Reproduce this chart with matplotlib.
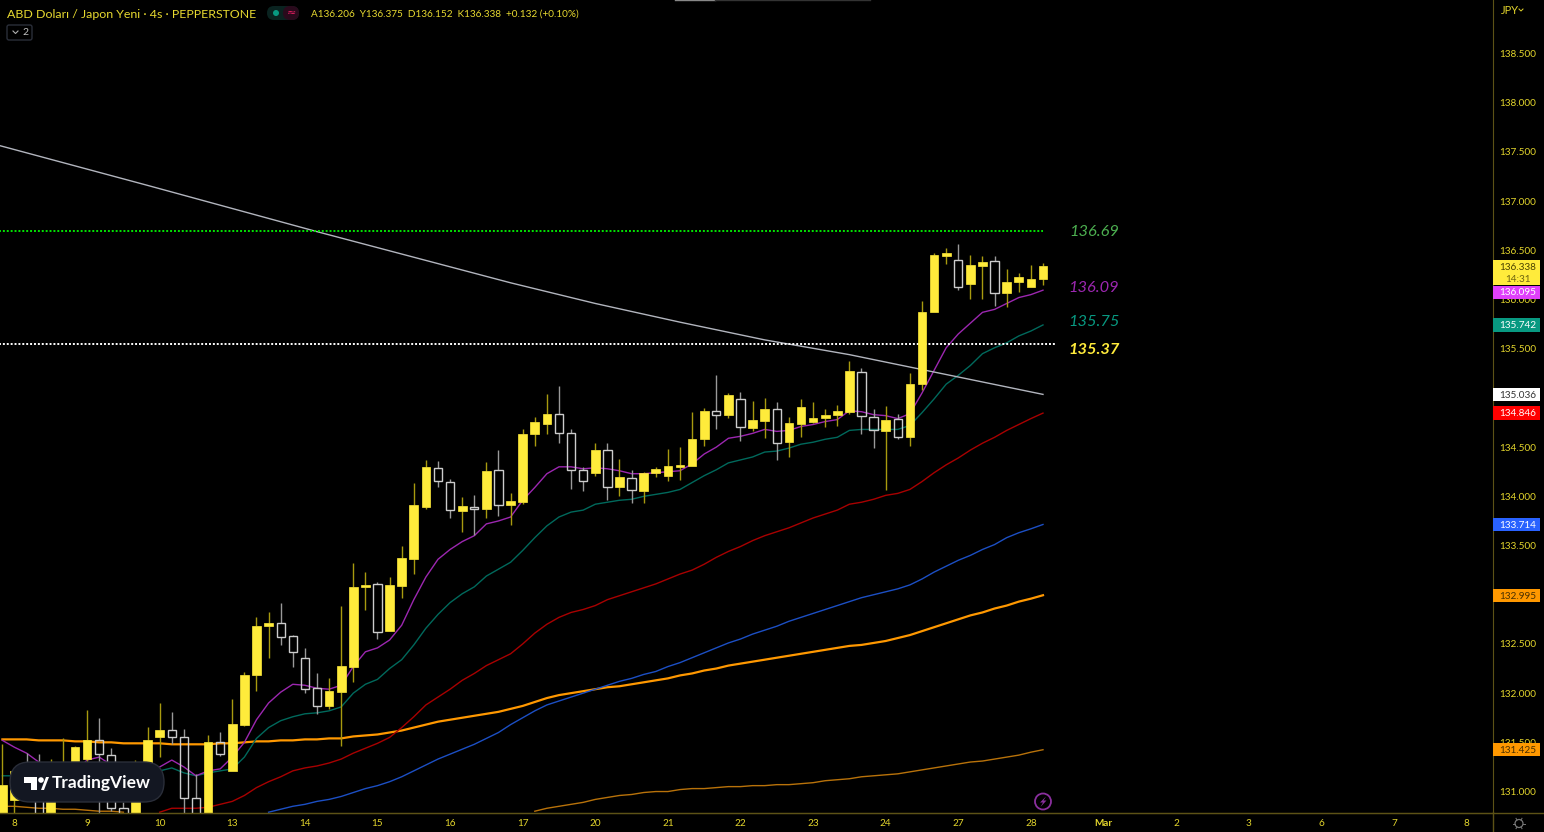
import numpy as np
import matplotlib
matplotlib.use('Agg')
import matplotlib.pyplot as plt
from matplotlib.patches import Rectangle, FancyBboxPatch, Circle, Polygon

plt.rcParams['font.family'] = ['Lato', 'DejaVu Sans']

# USD/JPY 4h candles
highs = [131.48,131.24,131.39,131.38,131.33,131.54,131.46,131.83,131.75,131.44,130.89,131.32,131.66,131.90,131.81,131.64,131.18,131.57,131.60,131.94,
         132.214,132.773,132.824,132.916,132.590,132.458,132.204,132.153,132.885,133.322,133.230,133.129,133.180,133.495,134.135,134.369,134.359,134.176,133.993,134.013,
         134.349,134.471,134.034,134.684,134.806,135.040,135.121,134.684,134.298,134.542,134.542,134.379,134.268,134.247,134.298,134.481,134.501,134.857,134.897,135.233,
         135.050,135.060,134.969,134.999,134.958,134.806,134.989,134.958,134.887,134.928,135.375,135.304,134.887,134.918,134.836,135.253,135.985,136.473,136.524,136.564,
         136.452,136.442,136.442,136.310,136.270,136.351,136.375]
lows = [130.61,130.76,130.914,130.61,130.61,131.07,131.12,131.30,130.76,130.80,130.61,130.61,131.12,131.35,131.48,130.61,130.61,130.61,131.36,131.21,
        131.666,132.021,132.357,132.489,132.265,132.001,131.788,131.839,131.462,132.113,132.844,132.550,132.631,132.966,133.210,133.871,134.095,133.780,133.637,133.607,
        133.780,133.800,133.708,133.922,134.511,134.633,134.542,134.075,134.054,134.207,133.962,134.003,133.932,133.932,134.196,134.156,134.166,134.308,134.511,134.684,
        134.796,134.562,134.664,134.593,134.369,134.399,134.603,134.745,134.704,134.715,134.836,134.633,134.491,134.064,134.582,134.511,135.080,135.873,136.361,136.097,
        136.005,136.005,135.934,135.924,136.077,136.127,136.152]
opens = [130.61,130.91,131.219,131.17,130.61,131.17,131.17,131.33,131.52,131.37,130.83,130.61,131.17,131.55,131.63,131.55,130.93,130.61,131.50,131.21,
         131.676,132.184,132.682,132.712,132.580,132.357,132.052,131.869,132.011,132.265,133.078,133.109,132.631,133.088,133.362,133.891,134.288,134.146,133.851,133.891,
         133.871,134.268,133.911,133.942,134.633,134.735,134.836,134.643,134.268,134.237,134.471,134.095,134.186,134.054,134.237,134.207,134.298,134.308,134.582,134.867,
         134.826,134.989,134.694,134.765,134.887,134.552,134.735,134.755,134.796,134.826,134.857,135.263,134.806,134.664,134.786,134.603,135.141,135.873,136.442,136.402,
         136.158,136.341,136.391,136.066,136.178,136.127,136.206]
closes = [131.07,131.21,130.965,130.61,131.17,131.27,131.45,131.52,131.38,130.83,130.61,131.19,131.52,131.63,131.55,130.93,130.61,131.50,131.38,131.69,
          132.184,132.682,132.712,132.570,132.418,132.041,131.869,132.021,132.275,133.078,133.098,132.621,133.098,133.373,133.911,134.298,134.156,133.861,133.901,133.871,
          134.257,133.911,133.952,134.633,134.755,134.836,134.643,134.268,134.156,134.471,134.095,134.196,134.064,134.237,134.278,134.308,134.318,134.582,134.867,134.826,
          135.030,134.704,134.776,134.887,134.542,134.745,134.908,134.796,134.826,134.867,135.274,134.816,134.674,134.776,134.603,135.141,135.873,136.452,136.473,136.127,
          136.351,136.381,136.066,136.178,136.229,136.209,136.338]

# moving averages, one value per bar, the shorter ones end at the last bar
ma_magenta = [131.52,131.45,131.39,131.30,131.22,131.17,131.20,131.32,131.35,131.27,131.17,131.14,131.20,131.25,131.32,131.25,131.16,131.21,131.23,131.35,
              131.50,131.73,131.90,132.01,132.09,132.08,132.05,132.04,132.08,132.27,132.42,132.46,132.54,132.69,132.95,133.18,133.36,133.46,133.54,133.60,
              133.72,133.75,133.79,133.96,134.09,134.23,134.30,134.30,134.28,134.29,134.28,134.26,134.23,134.23,134.24,134.25,134.26,134.33,134.43,134.50,
              134.59,134.61,134.64,134.68,134.66,134.67,134.71,134.73,134.76,134.78,134.87,134.86,134.83,134.82,134.79,134.84,135.05,135.28,135.51,135.65,
              135.76,135.87,135.90,135.96,136.02,136.05,136.095]
ma_teal = [131.16,131.16,131.16,131.14,131.10,131.08,131.09,131.14,131.17,131.14,131.10,131.10,131.16,131.21,131.24,131.19,131.16,131.19,131.21,131.23,
           131.35,131.54,131.65,131.72,131.76,131.79,131.80,131.82,131.86,132.00,132.09,132.14,132.25,132.34,132.49,132.66,132.80,132.92,133.01,133.08,
           133.19,133.26,133.33,133.45,133.58,133.70,133.79,133.84,133.86,133.92,133.94,133.96,133.97,134.00,134.02,134.04,134.07,134.14,134.21,134.27,
           134.34,134.37,134.40,134.45,134.46,134.49,134.53,134.55,134.58,134.60,134.67,134.68,134.68,134.68,134.68,134.72,134.85,134.99,135.14,135.23,
           135.33,135.45,135.51,135.56,135.63,135.68,135.742]
ma_red = [130.79,130.83,130.83,130.83,130.84,130.87,130.90,130.96,131.04,131.10,131.15,131.21,131.24,131.26,131.29,131.33,131.39,131.44,131.49,131.55,
          131.65,131.76,131.88,131.96,132.04,132.13,132.20,132.28,132.34,132.40,132.50,132.61,132.70,132.77,132.82,132.85,132.89,132.95,132.99,133.03,
          133.07,133.11,133.16,133.21,133.25,133.31,133.38,133.44,133.49,133.55,133.60,133.64,133.68,133.73,133.78,133.82,133.86,133.92,133.94,133.97,
          134.01,134.03,134.07,134.15,134.24,134.32,134.39,134.47,134.54,134.60,134.67,134.73,134.79,134.846]
ma_blue = [130.79,130.82,130.85,130.87,130.90,130.92,130.95,130.99,131.03,131.06,131.10,131.15,131.21,131.27,131.33,131.38,131.43,131.48,131.54,131.60,
           131.68,131.75,131.82,131.88,131.92,131.96,132.00,132.04,132.08,132.12,132.15,132.19,132.22,132.27,132.31,132.36,132.41,132.46,132.51,132.55,
           132.60,132.64,132.68,132.73,132.77,132.81,132.85,132.89,132.93,132.97,133.00,133.03,133.06,133.10,133.16,133.23,133.29,133.35,133.40,133.46,
           133.51,133.58,133.63,133.67,133.714]
ma_orange = [131.53,131.53,131.53,131.52,131.52,131.52,131.51,131.51,131.50,131.50,131.49,131.49,131.49,131.49,131.48,131.48,131.48,131.48,131.49,131.49,
             131.50,131.51,131.51,131.52,131.52,131.53,131.53,131.54,131.54,131.56,131.57,131.58,131.60,131.62,131.65,131.68,131.71,131.73,131.75,131.77,
             131.79,131.81,131.84,131.87,131.91,131.95,131.98,132.00,132.02,132.04,132.06,132.07,132.09,132.11,132.13,132.15,132.18,132.20,132.23,132.25,
             132.28,132.30,132.32,132.34,132.36,132.38,132.40,132.42,132.44,132.46,132.48,132.49,132.51,132.53,132.56,132.59,132.63,132.67,132.71,132.75,
             132.79,132.82,132.86,132.89,132.93,132.96,132.995]
ma_thin_left = [130.85,130.85,130.84,130.83,130.83,130.82,130.82,130.81,130.80,130.80,130.79]
ma_thin_right = [130.80,130.83,130.85,130.87,130.89,130.92,130.94,130.96,130.97,130.99,131.00,131.00,131.02,131.03,131.03,131.04,131.05,131.05,131.06,131.06,
                 131.07,131.07,131.08,131.09,131.11,131.12,131.13,131.15,131.16,131.17,131.18,131.20,131.22,131.24,131.26,131.28,131.30,131.31,131.33,131.35,
                 131.37,131.40,131.425]

trend_bars = [-1, 12, 26, 42, 49, 56, 63, 70, 86]
trend_vals = [137.59, 137.16, 136.69, 136.17, 135.96, 135.77, 135.59, 135.44, 135.036]

green_level = 136.695
white_level = 135.551

# 133.000 and 135.000 sit under the price tags in the reference
y_ticks = [131.0,131.5,132.0,132.5,133.5,134.0,134.5,135.5,136.0,136.5,137.0,137.5,138.0,138.5]
x_ticks = [1 + 6*k for k in range(21)]
x_labels = ['8','9','10','13','14','15','16','17','20','21','22','23','24','27','28','Mar','2','3','6','7','8']

side_labels = [('136.69', 136.688, '#4caf50', 'normal'), ('136.09', 136.113, '#9c27b0', 'normal'),
               ('135.75', 135.768, '#089981', 'normal'), ('135.37', 135.49, '#ffeb3b', 'bold')]
tags = [(136.095, -0.02, '#e040fb', 'white'), (135.742, 0, '#089981', 'white'), (135.036, 0, 'white', '#333333'),
        (134.846, 0, '#ff0000', 'white'), (133.714, 0, '#2962ff', 'white'), (132.995, 0, '#ff9800', '#4a3000'),
        (131.425, 0, '#ff9800', '#4a3000')]

text_col = '#e3d52c'
axis_col = '#5c5216'
W, H = 1544, 832

fig = plt.figure(figsize=(W/100, H/100), dpi=100, facecolor='black')
ax = fig.add_axes([0, 1-812.5/H, 1492.5/W, 812.5/H], facecolor='black')

n = len(closes)
bars = np.arange(n)
for val, col, lw in [(ma_thin_right, '#b8720a', 1), (ma_orange, '#ff9800', 1.6), (ma_blue, '#1c4fc4', 1),
                     (ma_red, '#a80000', 1), (ma_teal, '#00695c', 1), (ma_magenta, '#9c27b0', 1)]:
    ax.plot(bars[n-len(val):], val, color=col, lw=lw, zorder=2, solid_joinstyle='round')
ax.plot(bars[:len(ma_thin_left)], ma_thin_left, color='#b8720a', lw=1, zorder=2)
ax.plot(trend_bars, trend_vals, color='#b2b5be', lw=1, zorder=2)

ax.plot([-1, 86], [green_level, green_level], color='#00e600', lw=1.4, ls=(0, (1, 1)), zorder=2)
ax.plot([-1, 87], [white_level, white_level], color='white', lw=1.4, ls=(0, (1, 1)), zorder=2)

for i in range(n):
    top = max(opens[i], closes[i])
    bot = min(opens[i], closes[i])
    if closes[i] >= opens[i]:
        ax.vlines([i, i], [bot, top], [lows[i], highs[i]], color='#a89a0f', lw=1, zorder=3)
        ax.bar(i, top-bot, bottom=bot, width=0.72, color='#ffeb3b', edgecolor='#ffeb3b', lw=0.5, zorder=4)
    else:
        ax.vlines([i, i], [bot, top], [lows[i], highs[i]], color='#999999', lw=1, zorder=3)
        ax.bar(i, top-bot, bottom=bot, width=0.68, facecolor='none', edgecolor='#cccccc', lw=1, zorder=4)

ax.set_xlim(-0.198, 123.15)
ax.set_ylim(130.787, 139.044)
ax.yaxis.tick_right()
ax.set_yticks(y_ticks)
ax.set_yticklabels(['%.3f' % v for v in y_ticks])
ax.set_xticks(x_ticks)
ax.set_xticklabels(x_labels)
ax.tick_params(axis='both', length=0, labelcolor=text_col, labelsize=7.2)
ax.tick_params(axis='y', pad=5)
ax.tick_params(axis='x', pad=4.5)
ax.get_xticklabels()[15].set_fontweight('bold')
for s in ['top', 'left']:
    ax.spines[s].set_visible(False)
for s in ['right', 'bottom']:
    ax.spines[s].set_color(axis_col)

# labels next to the last bar
for txt, val, col, weight in side_labels:
    ax.text(90.2, val, txt, color=col, fontsize=11.8, style='italic', fontweight=weight, ha='center', va='center')

# price tags on the scale
yax = ax.get_yaxis_transform()
tag_x = 0.01675
ax.add_patch(Rectangle((1.0003, 136.338-0.188), 47/1492.5, 0.254, transform=yax, color='#ffeb3b', clip_on=False, zorder=5, lw=0))
ax.text(1+tag_x, 136.328, '136.338', transform=yax, color='#4a4200', fontsize=7.2, ha='center', va='center', zorder=6)
ax.text(1+tag_x, 136.20, '14:31', transform=yax, color='#6e6410', fontsize=7.2, ha='center', va='center', zorder=6)
for val, shift, bg, fg in tags:
    ax.add_patch(Rectangle((1.0003, val+shift-0.067), 47/1492.5, 0.134, transform=yax, color=bg, clip_on=False, zorder=5, lw=0))
    ax.text(1+tag_x, val+shift-0.008, '%.3f' % val, transform=yax, color=fg, fontsize=7.2, ha='center', va='center', zorder=6)

# overlay in pixels for the header and the logo
ov = fig.add_axes([0, 0, 1, 1], facecolor='none', zorder=10)
ov.set_xlim(0, W)
ov.set_ylim(H, 0)
ov.axis('off')

ov.plot([0, W], [812.5, 812.5], color=axis_col, lw=1)
ov.plot([1492.5, 1492.5], [812, H], color=axis_col, lw=1)
ov.plot([675, 715], [0.3, 0.3], color='#888888', lw=1)
ov.plot([715, 870], [0.3, 0.3], color='#333333', lw=1)

ov.text(7, 14, 'ABD Doları / Japon Yeni · 4s · PEPPERSTONE', color='#e8da30', fontsize=8.9, va='center')
ov.text(311, 14, 'A136.206  Y136.375  D136.152  K136.338  +0.132 (+0.10%)', color='#e8da30', fontsize=7.2, va='center')
ov.add_patch(FancyBboxPatch((267, 6), 32, 14, boxstyle='round,pad=0,rounding_size=7', fc='#0a2320', ec='none'))
ov.add_patch(FancyBboxPatch((283, 6), 16, 14, boxstyle='round,pad=0,rounding_size=7', fc='#2a0a1c', ec='none'))
ov.add_patch(Circle((276, 13), 3, fc='#089981', ec='none'))
ov.text(291, 13, '≈', color='#e91e63', fontsize=8, ha='center', va='center', family=['DejaVu Sans'])
ov.add_patch(FancyBboxPatch((7, 25), 25, 15, boxstyle='round,pad=0,rounding_size=2', fc='black', ec='#2a2e39', lw=1))
ov.plot([13, 15.5, 18], [31, 33.5, 31], color='#b0b0b0', lw=0.8)
ov.text(25.5, 32.5, '2', color='#c0c0c0', fontsize=7.5, ha='center', va='center')
ov.text(1501, 10, 'JPY', color=text_col, fontsize=8, va='center')
ov.plot([1519, 1521, 1523], [9, 11, 9], color=text_col, lw=0.7)

# TradingView logo
ov.add_patch(FancyBboxPatch((10, 762), 154, 40, boxstyle='round,pad=0,rounding_size=20', fc='#131722', ec='#2a2e39', lw=1))
ov.add_patch(Polygon([(24, 777), (37, 777), (37, 790), (31, 790), (31, 783), (24, 783)], fc='white', ec='none'))
ov.add_patch(Circle((41, 780), 2.8, fc='white', ec='none'))
ov.add_patch(Polygon([(41, 790), (46, 777), (49, 777), (44, 790)], fc='white', ec='none'))
ov.text(52, 783, 'TradingView', color='white', fontsize=12.5, fontweight='bold', va='center')

# lightning badge and settings gear
ov.add_patch(Circle((1043, 801.5), 8, fc='none', ec='#8a2f9e', lw=1.3))
ov.add_patch(Polygon([(1046, 796.5), (1040, 802.5), (1043, 802.5), (1040.5, 807), (1046.5, 800.5), (1043.5, 800.5)], fc='#8a2f9e', ec='none'))
ov.add_patch(Circle((1519, 823.5), 4, fc='none', ec='#777777', lw=0.9))
for a in np.arange(0, 360, 60):
    ov.plot([1519+4*np.cos(np.radians(a)), 1519+6*np.cos(np.radians(a))],
            [823.5+4*np.sin(np.radians(a)), 823.5+6*np.sin(np.radians(a))], color='#777777', lw=0.7)

fig.savefig('out.png', dpi=100, facecolor='black')
